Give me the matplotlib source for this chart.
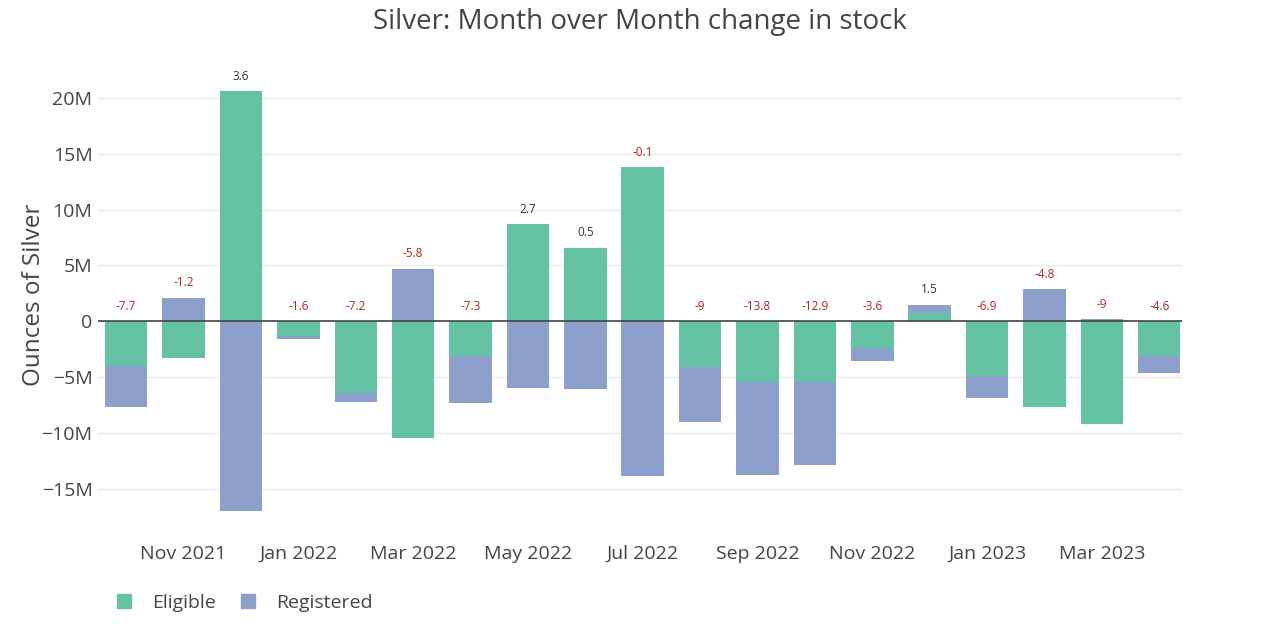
import numpy as np
import matplotlib.pyplot as plt
from matplotlib.patches import Patch

plt.rcParams['font.family'] = ['Open Sans', 'DejaVu Sans']

# Monthly change in stock (millions of ounces)
months = ['Oct 2021', 'Nov 2021', 'Dec 2021', 'Jan 2022', 'Feb 2022', 'Mar 2022',
          'Apr 2022', 'May 2022', 'Jun 2022', 'Jul 2022', 'Aug 2022', 'Sep 2022',
          'Oct 2022', 'Nov 2022', 'Dec 2022', 'Jan 2023', 'Feb 2023', 'Mar 2023',
          'Apr 2023']
eligible = [-4.0, -3.3, 20.6, -1.35, -6.4, -10.5, -3.1, 8.7, 6.6, 13.8,
            -4.1, -5.4, -5.4, -2.4, 0.7, -4.9, -7.7, -9.2, -3.1]
registered = [-3.7, 2.1, -17.0, -0.25, -0.8, 4.7, -4.2, -6.0, -6.1, -13.9,
              -4.9, -8.4, -7.5, -1.2, 0.8, -2.0, 2.9, 0.2, -1.5]
totals = ['-7.7', '-1.2', '3.6', '-1.6', '-7.2', '-5.8', '-7.3', '2.7', '0.5', '-0.1',
          '-9', '-13.8', '-12.9', '-3.6', '1.5', '-6.9', '-4.8', '-9', '-4.6']
tick_labels = ['Nov 2021', 'Jan 2022', 'Mar 2022', 'May 2022', 'Jul 2022',
               'Sep 2022', 'Nov 2022', 'Jan 2023', 'Mar 2023']

green = '#66c2a5'
blue = '#8da0cb'

fig = plt.figure(figsize=(12.8, 6.4), dpi=100)
ax = fig.add_axes([0.0766, 0.172, 0.847, 0.734])

x = np.arange(len(months))
elig = np.array(eligible)
reg = np.array(registered)
width = 0.74

# relative stacking like plotly: positives stack up, negatives stack down
pos_base = np.zeros(len(x))
neg_base = np.zeros(len(x))
for vals, col in [(elig, green), (reg, blue)]:
    bottoms = np.where(vals >= 0, pos_base, neg_base)
    ax.bar(x, vals, width, bottom=bottoms, color=col, zorder=2)
    pos_base = pos_base + np.where(vals >= 0, vals, 0)
    neg_base = neg_base + np.where(vals < 0, vals, 0)

# totals above each bar
for i, t in enumerate(totals):
    c = '#b22222' if t.startswith('-') else '#333333'
    ax.annotate(t, (x[i], pos_base[i]), xytext=(0, 6), textcoords='offset points',
                ha='center', va='bottom', fontsize=8.5, color=c)

ax.set_ylim(-18.7, 23.4)
ax.set_xlim(-0.49, 18.4)
ax.set_yticks([-15, -10, -5, 0, 5, 10, 15, 20])
ax.set_yticklabels(['−15M', '−10M', '−5M', '0', '5M', '10M', '15M', '20M'])
ax.set_xticks(x[1::2])
ax.set_xticklabels(tick_labels)
ax.tick_params(axis='both', length=0, labelsize=14, colors='#444444')
ax.tick_params(axis='x', pad=11)
ax.tick_params(axis='y', pad=4)
ax.grid(axis='y', color='#ebebeb', linewidth=1, zorder=0)
ax.axhline(0, color='#444444', linewidth=1.2, zorder=3)
for s in ax.spines.values():
    s.set_visible(False)

ax.set_ylabel('Ounces of Silver', fontsize=17.5, color='#444444')
ax.yaxis.set_label_coords(-0.048, 0.5)
fig.text(0.5, 0.965, 'Silver: Month over Month change in stock', ha='center',
         va='center', fontsize=20, color='#444444')

handles = [Patch(color=green, label='Eligible'), Patch(color=blue, label='Registered')]
fig.legend(handles=handles, loc='center left', bbox_to_anchor=(0.078, 0.058), ncol=2,
           frameon=False, fontsize=14, labelcolor='#444444', handlelength=0.7,
           handleheight=0.7, handletextpad=1.1, columnspacing=1.3)

fig.savefig('out.png', dpi=100)
